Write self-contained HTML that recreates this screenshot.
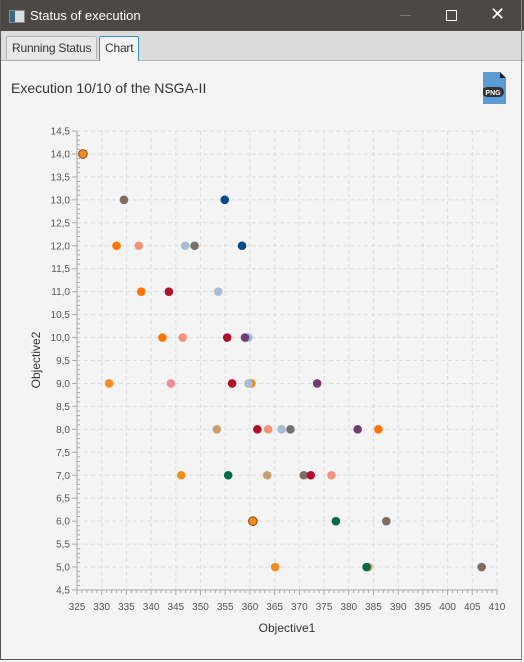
<!DOCTYPE html>
<html><head><meta charset="utf-8">
<style>
body{margin:0;width:524px;height:662px;overflow:hidden;background:#f4f4f4;font-family:"Liberation Sans",sans-serif;position:relative}
#titlebar{position:absolute;left:0;top:0;width:524px;height:31px;background:#4b4846;color:#fff;font-size:13px}
#tabs{position:absolute;left:0;top:31px;width:524px;height:29px;background:#dcdcdc;border-bottom:1px solid #b5b5b5}
.tab{position:absolute;top:5px;height:23px;border:1px solid #b5b5b5;border-bottom:none;background:#e8e8e8;font-size:12px;color:#333;line-height:23px;padding:0 5px;box-sizing:border-box;border-radius:2px 2px 0 0;white-space:nowrap;overflow:hidden;letter-spacing:-0.2px}
#frame{position:absolute;left:0;top:0;width:522px;height:660px;border-right:1px solid #888;border-bottom:1px solid #555;border-left:1px solid #555;box-sizing:border-box;pointer-events:none}
</style></head><body>
<div id="titlebar">
 <div style="position:absolute;left:9px;top:10px;width:14px;height:11px;background:#d8e0e4;border:1px solid #888"><div style="width:5px;height:11px;background:#3a6a80"></div></div>
 <div style="position:absolute;left:30px;top:8px">Status of execution</div>
 <div style="position:absolute;left:400px;top:15px;width:11px;height:1px;background:#777"></div>
 <div style="position:absolute;left:446px;top:10px;width:9px;height:9px;border:1px solid #fff"></div>
 <div style="position:absolute;left:490px;top:4px;font-size:18px">✕</div>
</div>
<div id="tabs">
 <div class="tab" style="left:6px;width:91px">Running Status</div>
 <div class="tab" style="left:99px;width:40px;background:#f4f4f4;border-color:#3c8fc8;height:25px">Chart</div>
</div>
<div style="position:absolute;left:11px;top:80px;font-size:14px;color:#333;white-space:nowrap">Execution 10/10 of the NSGA-II</div>
<div style="position:absolute;left:483px;top:72px;width:24px;height:32px">
 <svg width="24" height="32"><path d="M0 0H17L23 6V32H0Z" fill="#5b9bd5"/><path d="M17 0L23 6H17Z" fill="#222"/><rect x="-1" y="15" width="22" height="10" rx="5" fill="#333"/><text x="10" y="23" font-size="7" fill="#fff" text-anchor="middle" font-family="Liberation Sans" font-weight="bold">PNG</text></svg>
</div>
<svg id="chart" width="524" height="662" style="position:absolute;left:0;top:0"></svg>
<div id="frame"></div>
<script>
const xTicks=[325,330,335,340,345,350,355,360,365,370,375,380,385,390,395,400,405,410];
const yTicks=[4.5,5,5.5,6,6.5,7,7.5,8,8.5,9,9.5,10,10.5,11,11.5,12,12.5,13,13.5,14,14.5];
const yTickLabels=["4,5","5,0","5,5","6,0","6,5","7,0","7,5","8,0","8,5","9,0","9,5","10,0","10,5","11,0","11,5","12,0","12,5","13,0","13,5","14,0","14,5"];
const seriesColors=["#f28c1e","#ff7300","#f4937a","#7a6f67","#004a8f","#a8bcd6","#b0102a","#6e3f6e","#f08ca0","#c8a070","#006b40"];
const seriesX=[
 [326.2,331.5,360.3,346.1,360.6,365.1],
 [333.0,338.0,342.3,386.0],
 [337.5,346.4,363.7,376.5,384.0],
 [334.5,348.8,368.2,370.9,387.6,406.9],
 [354.9,358.4],
 [346.9,353.6,359.7,359.7,366.4],
 [343.6,355.4,356.4,361.5,372.3],
 [359.0,373.6,381.8],
 [344.0],
 [353.3,363.5],
 [355.6,377.4,383.6]];
const seriesY=[
 [14,9,9,7,6,5],
 [12,11,10,8],
 [12,10,8,7,5],
 [13,12,8,7,6,5],
 [13,12],
 [12,11,10,9,8],
 [11,10,9,8,7],
 [10,9,8],
 [9],
 [8,7],
 [7,6,5]];
const X0=77,X1=497,Y0=590,Y1=131;
const xs=v=>X0+(v-325)/(410-325)*(X1-X0);
const ys=v=>Y0-(v-4.5)/(14.5-4.5)*(Y0-Y1);
const svg=document.getElementById('chart');
const NS='http://www.w3.org/2000/svg';
function mk(t,a){const e=document.createElementNS(NS,t);for(const k in a)e.setAttribute(k,a[k]);svg.appendChild(e);return e;}
xTicks.forEach(v=>{const l=mk('line',{x1:xs(v),x2:xs(v),y1:Y1,y2:Y0,stroke:'#dedede','stroke-dasharray':'4,3'});

});
yTicks.forEach(v=>{const l=mk('line',{x1:X0,x2:X1,y1:ys(v),y2:ys(v),stroke:'#dedede','stroke-dasharray':'4,3'});

});
const ya=mk('line',{x1:X0,x2:X0,y1:Y1,y2:Y0,stroke:'#aaa'});


const xa=mk('line',{x1:X0,x2:X1,y1:Y0,y2:Y0,stroke:'#aaa'});


for(let v=325;v<=410;v++){mk('line',{x1:xs(v),x2:xs(v),y1:Y0,y2:Y0+(v%5?3:5),stroke:'#aaa'});}
for(let i=0;i<=100;i++){const v=4.5+i*0.1;mk('line',{x1:X0-(i%5?0:5),x2:X0+(i%5?3:0),y1:ys(v),y2:ys(v),stroke:'#aaa'});}
xTicks.forEach(v=>{const t=mk('text',{x:xs(v),y:Y0+20,'font-size':10,fill:'#555','text-anchor':'middle','font-family':'Liberation Sans'});t.textContent=v;

});
yTicks.forEach((v,i)=>{const t=mk('text',{x:X0-7,y:ys(v)+3.5,'font-size':10,fill:'#555','text-anchor':'end','font-family':'Liberation Sans'});t.textContent=yTickLabels[i];

});
const xt=mk('text',{x:287,y:632,'font-size':12,fill:'#333','text-anchor':'middle','font-family':'Liberation Sans'});xt.textContent='Objective1';


const yt=mk('text',{x:0,y:0,'font-size':12,fill:'#333','text-anchor':'middle','font-family':'Liberation Sans',transform:'translate(40,360) rotate(-90)'});yt.textContent='Objective2';


seriesX.forEach((xsArr,s)=>{xsArr.forEach((xv,i)=>{const c=mk('circle',{cx:xs(xv),cy:ys(seriesY[s][i]),r:4.3,fill:seriesColors[s]});
if(s===0&&(i===0||i===4))c.setAttribute('stroke','#8a4a10');

});});
</script>
</body></html>
